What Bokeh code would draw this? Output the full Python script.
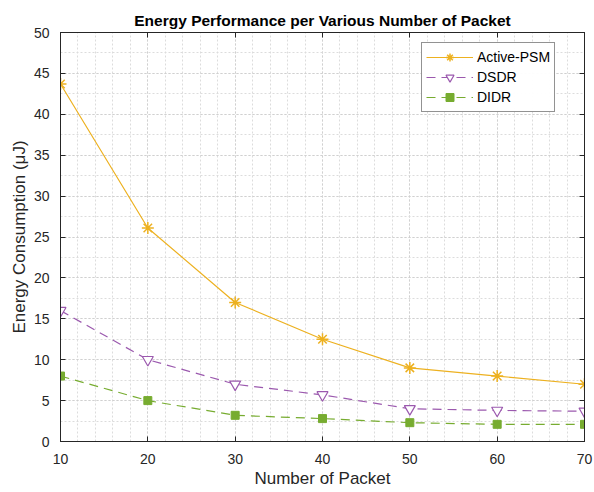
from bokeh.plotting import figure
from bokeh.models import Range1d, SingleIntervalTicker, LinearAxis, Legend, LegendItem, CustomJSTickFormatter
from bokeh.embed import file_html
from bokeh.resources import INLINE

packets = [10, 20, 30, 40, 50, 60, 70]
active_psm = [43.7, 26.1, 17.0, 12.5, 9.0, 8.0, 7.0]
dsdr = [16.0, 10.0, 7.0, 5.7, 4.0, 3.8, 3.7]
didr = [8.0, 5.0, 3.2, 2.8, 2.3, 2.1, 2.1]

FONT = "Liberation Sans"
TXT = "#262626"

p = figure(width=594, height=492, output_backend="svg", toolbar_location=None,
           x_range=Range1d(10, 70), y_range=Range1d(0, 50),
           min_border_left=60, min_border_right=10, min_border_top=32, min_border_bottom=51)

p.title.text = "Energy Performance per Various Number of Packet"
p.title.align = "center"
p.title.text_font = FONT
p.title.text_font_size = "15.5px"
p.title.text_font_style = "bold"
p.title.text_color = "black"
p.title.standoff = 0

xb = p.xaxis[0]
yl = p.yaxis[0]
xb.ticker = SingleIntervalTicker(interval=10, num_minor_ticks=5)
yl.ticker = SingleIntervalTicker(interval=5, num_minor_ticks=2)
xb.axis_label = "Number of Packet"
yl.axis_label = "Energy Consumption (μJ)"

blank = CustomJSTickFormatter(code="return ''")
xt = LinearAxis(ticker=SingleIntervalTicker(interval=10, num_minor_ticks=5), formatter=blank,
                major_label_standoff=0, major_label_text_font_size="1px")
yr = LinearAxis(ticker=SingleIntervalTicker(interval=5, num_minor_ticks=2), formatter=blank,
                major_label_standoff=0, major_label_text_font_size="1px")
p.add_layout(xt, "above")
p.add_layout(yr, "right")

for ax in [xb, yl, xt, yr]:
    ax.axis_line_color = "#262626"
    ax.major_tick_line_color = "#262626"
    ax.major_tick_in = 5
    ax.major_tick_out = 0
    ax.minor_tick_line_color = None
    ax.axis_label_text_font = FONT
    ax.axis_label_text_font_style = "normal"
    ax.axis_label_text_font_size = "17px"
    ax.axis_label_text_color = TXT
    ax.major_label_text_font = FONT
    ax.major_label_text_color = TXT
for ax in [xb, yl]:
    ax.major_label_text_font_size = "14px"
xb.major_label_standoff = 8
xb.axis_label_standoff = 2
yl.major_label_standoff = 7
yl.axis_label_standoff = 2

for g in [p.xgrid[0], p.ygrid[0]]:
    g.grid_line_color = "#d0d0d0"
    g.grid_line_dash = "2 2"
    g.minor_grid_line_color = "#dcdcdc"
    g.minor_grid_line_dash = "2 2"

p.outline_line_color = "#262626"

c1, c2, c3 = "#EDB120", "#9B59AE", "#77AC30"

l1 = p.line(packets, active_psm, line_color=c1, line_width=1.2)
s1 = p.scatter(packets, active_psm, marker="asterisk", size=12, line_color=c1, line_width=1.5)
l2 = p.line(packets, dsdr, line_color=c2, line_width=1.2, line_dash="9 6")
s2 = p.scatter(packets, dsdr, marker="inverted_triangle", size=11, line_color=c2,
               fill_color="white", line_width=1.2)
l3 = p.line(packets, didr, line_color=c3, line_width=1.2, line_dash="9 6")
s3 = p.scatter(packets, didr, marker="square", size=8, line_color=c3, fill_color=c3)

legend = Legend(items=[
    LegendItem(label="Active-PSM", renderers=[l1, s1]),
    LegendItem(label="DSDR", renderers=[l2, s2]),
    LegendItem(label="DIDR", renderers=[l3, s3]),
], location=(361, 329))
legend.label_text_font = FONT
legend.label_text_font_size = "14px"
legend.label_text_color = "black"
legend.border_line_color = "#262626"
legend.border_line_width = 1
legend.glyph_width = 47
legend.glyph_height = 20
legend.label_height = 20
legend.spacing = 0
legend.padding = 4
legend.label_standoff = 4
legend.margin = 0
legend.item_background_fill_alpha = 0
p.add_layout(legend)

open("out.html", "w").write(file_html(p, INLINE))
